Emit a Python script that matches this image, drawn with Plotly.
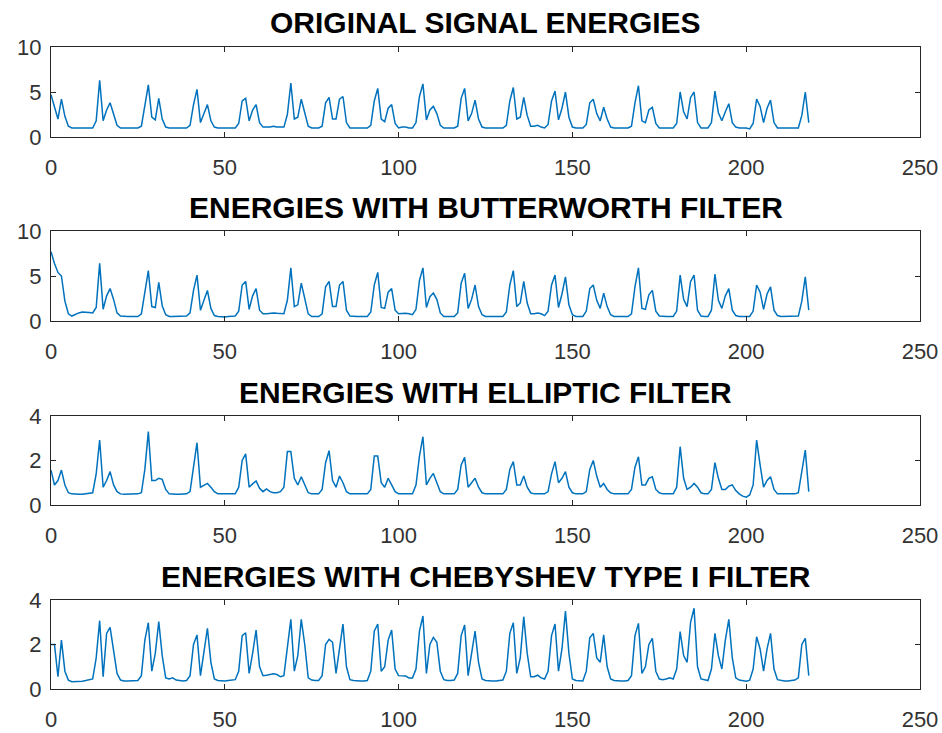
import plotly.graph_objects as go

W, H = 942, 733

titles = [
    "ORIGINAL SIGNAL ENERGIES",
    "ENERGIES WITH BUTTERWORTH FILTER",
    "ENERGIES WITH ELLIPTIC FILTER",
    "ENERGIES WITH CHEBYSHEV TYPE I FILTER",
]
x_ticks = [0, 50, 100, 150, 200, 250]
y_ticks = [[0, 5, 10], [0, 5, 10], [0, 2, 4], [0, 2, 4]]

original = [
    4.7, 3.4, 2.0, 4.2, 2.3, 1.2, 1.0, 1.0, 1.0, 1.0,
    1.0, 1.0, 1.0, 1.8, 6.3, 1.8, 3.0, 3.8, 2.6, 1.3,
    1.0, 1.0, 1.0, 1.0, 1.0, 1.0, 1.2, 3.4, 5.8, 2.2,
    1.9, 4.3, 2.0, 1.1, 1.0, 1.0, 1.0, 1.0, 1.0, 1.0,
    1.3, 3.6, 5.3, 1.6, 2.6, 3.6, 1.8, 1.1, 1.0, 1.0,
    1.0, 1.0, 1.0, 1.0, 1.5, 4.0, 4.3, 1.8, 3.0, 3.6,
    1.6, 1.1, 1.1, 1.1, 1.2, 1.1, 1.1, 1.1, 2.5, 6.0,
    2.0, 2.2, 4.2, 2.8, 1.2, 1.0, 1.0, 1.0, 1.2, 3.8,
    4.4, 2.0, 2.0, 4.2, 4.5, 1.6, 1.0, 1.0, 1.0, 1.0,
    1.0, 1.0, 1.3, 4.0, 5.4, 2.0, 1.7, 3.2, 3.6, 1.5,
    1.0, 1.1, 1.1, 1.0, 1.0, 1.6, 4.5, 5.9, 1.9, 3.0,
    3.4, 2.6, 1.3, 1.0, 1.0, 1.0, 1.0, 1.2, 4.3, 5.4,
    1.8, 2.6, 4.1, 2.0, 1.1, 1.0, 1.0, 1.0, 1.0, 1.0,
    1.0, 1.3, 4.0, 5.5, 2.0, 2.2, 4.4, 2.4, 1.2, 1.2,
    1.3, 1.1, 1.0, 1.4, 4.0, 5.1, 1.9, 3.2, 5.0, 2.2,
    1.1, 1.0, 1.0, 1.0, 1.4, 3.8, 4.2, 2.6, 1.8, 3.3,
    2.0, 1.1, 1.0, 1.0, 1.0, 1.0, 1.0, 1.2, 3.8, 5.7,
    1.8, 1.6, 3.0, 3.3, 1.5, 1.0, 1.0, 1.0, 1.0, 1.0,
    1.5, 5.0, 2.8, 2.0, 4.4, 5.0, 1.6, 1.0, 1.0, 1.0,
    1.6, 5.1, 2.7, 1.8, 2.8, 3.7, 1.6, 1.1, 1.0, 1.0,
    1.0, 0.9, 1.5, 4.2, 3.4, 1.6, 3.2, 4.1, 1.6, 1.0,
    1.0, 1.0, 1.0, 1.0, 1.0, 1.0, 2.4, 5.0, 1.6,
]

butterworth = [
    7.7, 6.4, 5.4, 5.0, 2.2, 0.8, 0.55, 0.75, 0.9, 1.0,
    1.0, 0.95, 0.9, 1.5, 6.4, 1.3, 2.8, 3.6, 2.4, 0.9,
    0.55, 0.5, 0.5, 0.5, 0.5, 0.5, 0.8, 3.2, 5.6, 1.6,
    1.5, 4.3, 1.7, 0.7, 0.5, 0.5, 0.5, 0.5, 0.5, 0.55,
    0.9, 3.4, 5.1, 1.2, 2.3, 3.4, 1.4, 0.6, 0.5, 0.45,
    0.45, 0.5, 0.5, 0.55, 1.1, 4.0, 4.4, 1.3, 2.8, 3.6,
    1.2, 0.8, 0.8, 0.85, 0.9, 0.85, 0.8, 0.8, 2.3, 5.9,
    1.6, 1.8, 4.2, 2.5, 0.8, 0.5, 0.5, 0.5, 0.8, 3.8,
    4.4, 1.6, 1.6, 4.0, 4.4, 1.2, 0.55, 0.5, 0.5, 0.5,
    0.5, 0.5, 1.0, 4.0, 5.4, 1.5, 1.4, 3.2, 3.6, 1.2,
    0.8, 0.85, 0.85, 0.8, 0.7, 1.3, 4.5, 5.9, 1.5, 2.7,
    3.1, 2.4, 0.9, 0.5, 0.5, 0.5, 0.5, 0.9, 4.2, 5.3,
    1.4, 2.4, 4.0, 1.6, 0.7, 0.5, 0.5, 0.5, 0.5, 0.5,
    0.5, 1.0, 4.0, 5.6, 1.6, 2.0, 4.4, 2.0, 0.8, 0.8,
    0.9, 0.8, 0.6, 1.1, 4.0, 5.1, 1.5, 3.0, 4.9, 1.8,
    0.7, 0.5, 0.5, 0.5, 1.1, 3.6, 4.0, 2.3, 1.4, 3.1,
    1.6, 0.7, 0.5, 0.5, 0.5, 0.5, 0.5, 0.8, 3.8, 5.9,
    1.4, 1.3, 2.9, 3.4, 1.1, 0.55, 0.5, 0.5, 0.5, 0.5,
    1.1, 5.1, 2.4, 1.6, 4.4, 5.1, 1.2, 0.55, 0.5, 0.5,
    1.2, 5.2, 2.3, 1.4, 2.8, 3.6, 1.2, 0.6, 0.5, 0.5,
    0.45, 0.5, 1.1, 4.0, 3.2, 1.3, 3.0, 3.8, 1.2, 0.6,
    0.5, 0.5, 0.5, 0.5, 0.5, 0.55, 2.2, 4.9, 1.2,
]

elliptic = [
    1.57, 0.9, 1.1, 1.57, 0.9, 0.55, 0.5, 0.48, 0.48, 0.48,
    0.5, 0.5, 0.55, 1.4, 2.92, 0.8, 1.1, 1.5, 0.9, 0.6,
    0.5, 0.48, 0.48, 0.48, 0.48, 0.5, 0.55, 1.6, 3.3, 1.1,
    1.1, 1.2, 1.15, 0.7, 0.5, 0.48, 0.48, 0.48, 0.48, 0.5,
    0.6, 1.6, 2.8, 0.8, 0.9, 0.97, 0.8, 0.6, 0.5, 0.5,
    0.48, 0.48, 0.5, 0.5, 0.8, 2.0, 2.3, 0.8, 0.95, 1.08,
    0.75, 0.6, 0.72, 0.6, 0.55, 0.55, 0.6, 0.8, 2.4, 2.4,
    1.2, 0.9, 1.27, 0.9, 0.55, 0.5, 0.5, 0.5, 0.7, 1.9,
    2.44, 1.1, 0.8, 1.3, 1.0, 0.6, 0.5, 0.5, 0.5, 0.5,
    0.5, 0.5, 0.7, 2.2, 2.2, 1.0, 0.8, 1.2, 0.9, 0.6,
    0.5, 0.5, 0.5, 0.5, 0.5, 0.9, 2.2, 3.07, 0.9, 1.2,
    1.42, 1.0, 0.6, 0.5, 0.5, 0.5, 0.5, 0.7, 1.8, 2.14,
    0.8, 1.0, 1.2, 0.8, 0.55, 0.5, 0.5, 0.5, 0.5, 0.5,
    0.5, 0.7, 1.6, 1.95, 0.9, 0.9, 1.3, 0.8, 0.55, 0.5,
    0.5, 0.5, 0.5, 0.6, 1.4, 1.95, 1.0, 1.2, 1.5, 0.8,
    0.55, 0.5, 0.5, 0.5, 0.6, 1.6, 2.0, 1.3, 0.8, 0.97,
    0.7, 0.55, 0.5, 0.5, 0.5, 0.5, 0.5, 0.7, 1.7, 2.17,
    0.9, 0.9, 1.2, 1.27, 0.7, 0.55, 0.5, 0.5, 0.5, 0.5,
    0.8, 2.62, 1.2, 0.7, 0.8, 0.97, 0.8, 0.55, 0.5, 0.5,
    0.7, 1.9, 1.2, 0.7, 0.7, 0.85, 0.9, 0.65, 0.5, 0.4,
    0.35, 0.45, 0.9, 2.92, 1.8, 0.8, 1.1, 1.27, 0.7, 0.5,
    0.5, 0.5, 0.5, 0.5, 0.5, 0.55, 1.6, 2.47, 0.6,
]

chebyshev = [
    2.0, 2.0, 0.55, 2.2, 0.8, 0.4, 0.33, 0.33, 0.35, 0.35,
    0.38, 0.4, 0.45, 1.4, 3.07, 0.55, 2.5, 2.77, 1.8, 0.7,
    0.4, 0.36, 0.36, 0.36, 0.36, 0.38, 0.6, 2.2, 2.98, 0.8,
    1.6, 3.03, 1.5, 0.5, 0.45, 0.5, 0.4, 0.38, 0.36, 0.38,
    0.6, 2.0, 2.43, 0.6, 1.6, 2.73, 1.2, 0.45, 0.38, 0.36,
    0.36, 0.38, 0.4, 0.42, 0.8, 2.4, 2.53, 0.7, 1.6, 2.65,
    1.0, 0.6, 0.62, 0.65, 0.68, 0.65, 0.55, 0.6, 2.0, 3.13,
    0.8, 1.5, 3.13, 2.0, 0.5, 0.4, 0.38, 0.38, 0.6, 2.0,
    2.23, 2.1, 0.7, 1.8, 2.92, 1.0, 0.42, 0.38, 0.36, 0.36,
    0.36, 0.38, 0.8, 2.6, 2.92, 0.8, 1.0, 2.2, 2.65, 0.9,
    0.6, 0.6, 0.58, 0.5, 0.5, 0.9, 2.6, 3.28, 0.7, 2.0,
    2.32, 2.1, 0.8, 0.42, 0.38, 0.38, 0.4, 0.7, 2.4, 2.88,
    0.6, 1.6, 2.6, 1.2, 0.45, 0.38, 0.36, 0.36, 0.36, 0.38,
    0.4, 0.8, 2.5, 2.98, 0.7, 1.4, 3.25, 1.6, 0.55, 0.55,
    0.62, 0.5, 0.45, 0.8, 2.4, 2.92, 0.8, 1.8, 3.5, 1.6,
    0.45, 0.38, 0.36, 0.36, 0.8, 2.3, 2.5, 1.4, 1.2, 2.43,
    1.0, 0.45, 0.38, 0.36, 0.36, 0.36, 0.38, 0.6, 2.4, 2.95,
    0.7, 1.0, 2.0, 2.28, 0.8, 0.45, 0.42, 0.45, 0.5, 0.45,
    0.9, 2.58, 1.5, 1.2, 3.0, 3.63, 1.0, 0.45, 0.4, 0.38,
    0.9, 2.5, 1.5, 0.9, 2.2, 3.13, 1.4, 0.5, 0.4, 0.38,
    0.35, 0.4, 0.9, 2.35, 1.8, 0.8, 1.8, 2.5, 0.9, 0.42,
    0.38, 0.36, 0.36, 0.38, 0.4, 0.5, 2.0, 2.28, 0.6,
]

series = [original, butterworth, elliptic, chebyshev]
samples = list(range(len(original)))

# pixel geometry of each axes box (top, bottom) and x extent
x_left, x_right = 51, 920
boxes = [(47, 137), (231, 321), (416, 505), (600, 689)]
title_y = [22, 207, 392, 576]

fig = go.Figure()
axis_color = "#262626"
tick_font = dict(family="Liberation Sans, Arial, sans-serif", size=22, color="#333333")

for i, vals in enumerate(series):
    sfx = "" if i == 0 else str(i + 1)
    fig.add_trace(go.Scatter(
        x=samples, y=vals, mode="lines",
        line=dict(color="#0072BD", width=1.5),
        xaxis="x" + sfx, yaxis="y" + sfx, showlegend=False,
        hoverinfo="skip",
    ))
    top, bot = boxes[i]
    common = dict(
        showline=True, linecolor=axis_color, linewidth=1, mirror="ticks",
        ticks="inside", ticklen=5, tickcolor=axis_color, tickwidth=1,
        showgrid=False, zeroline=False, tickfont=tick_font, automargin=False,
    )
    fig.layout["xaxis" + sfx] = dict(
        domain=[x_left / W, x_right / W], anchor="y" + sfx,
        range=[0, 250], tickvals=x_ticks, ticklabelstandoff=11, **common,
    )
    yt = y_ticks[i]
    fig.layout["yaxis" + sfx] = dict(
        domain=[1 - bot / H, 1 - top / H], anchor="x" + sfx,
        range=[yt[0], yt[-1]], tickvals=yt, ticklabelstandoff=4, **common,
    )
    fig.add_annotation(
        text="<b>" + titles[i] + "</b>", xref="paper", yref="paper",
        x=(x_left + x_right) / 2 / W, y=1 - title_y[i] / H,
        xanchor="center", yanchor="middle", showarrow=False,
        font=dict(family="Liberation Sans, Arial, sans-serif", size=30, color="#000000"),
    )

fig.update_layout(
    width=W, height=H, margin=dict(l=0, r=0, t=0, b=0, autoexpand=False),
    paper_bgcolor="white", plot_bgcolor="white",
)

fig.write_html(
    "out.html",
    config={"displayModeBar": False, "staticPlot": True},
    post_script="document.body.style.margin='0';document.body.style.overflow='hidden';",
)
